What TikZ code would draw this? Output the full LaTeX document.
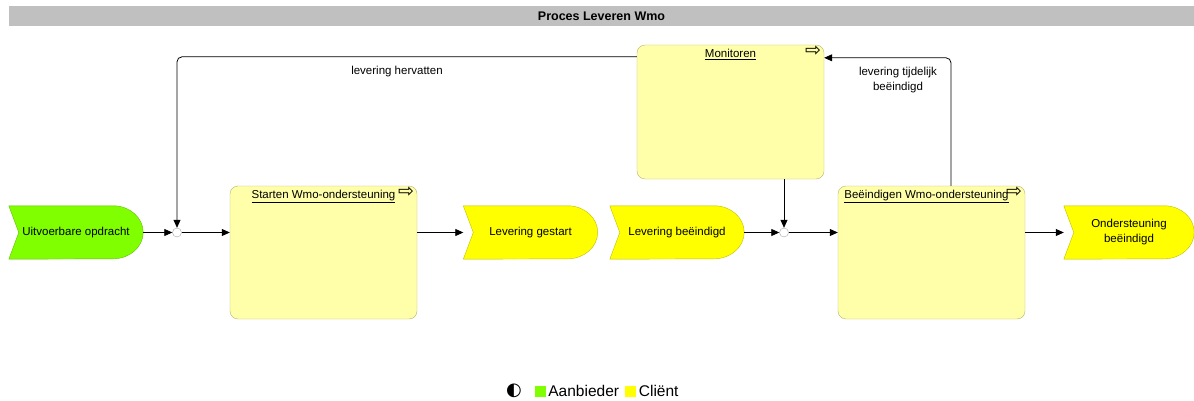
\documentclass[tikz,border=0pt]{standalone}
\usepackage{fontspec}
\setmainfont{Liberation Sans}
\newfontfamily\symfont{DejaVu Sans}
\usetikzlibrary{positioning,arrows.meta,backgrounds}
\definecolor{aanbieder}{RGB}{128,255,0}
\definecolor{client}{RGB}{255,255,0}
\definecolor{procesvlak}{RGB}{255,255,170}
\definecolor{procesrand}{RGB}{180,180,110}
\definecolor{balk}{RGB}{192,192,192}
\tikzset{
  gebeurtenis/.style={minimum width=134pt, minimum height=53pt, inner sep=0pt, align=center,
    font=\fontsize{11.5}{15}\selectfont},
  proces/.style={draw=procesrand, fill=procesvlak, rounded corners=8pt, minimum width=187pt,
    minimum height=133pt, inner sep=0pt},
  procestitel/.style={font=\fontsize{11.5}{14}\selectfont, inner sep=0pt},
  icoon/.style={font=\symfont\fontsize{19}{19}\selectfont, inner sep=0pt, anchor=east},
  knoop/.style={circle, draw=black!35, fill=white, minimum size=9pt, inner sep=0pt},
  kantlabel/.style={font=\fontsize{11.5}{15}\selectfont, inner sep=0pt, align=center},
  legvak/.style={minimum size=11pt, inner sep=0pt},
  legtekst/.style={font=\fontsize{15.5}{18}\selectfont, inner sep=0pt}
}
\begin{document}
\begin{tikzpicture}[x=1pt, y=1pt]
  \useasboundingbox (0,0) rectangle (1194,-401);
  \node[fill=balk, minimum width=1185pt, minimum height=20pt, inner sep=0pt,
    font=\bfseries\fontsize{12.5}{14}\selectfont] (titel) at (601.5,-16) {Proces Leveren Wmo};

  \node[gebeurtenis] (uitv) at (76,-232.5) {Uitvoerbare opdracht};
  \node[gebeurtenis] (lgest) at (530.5,-232.5) {Levering gestart};
  \node[gebeurtenis] (lbeeind) at (677,-232.5) {Levering beëindigd};
  \node[gebeurtenis, minimum width=130pt] (obeeind) at (1129,-232.5) {Ondersteuning\\beëindigd};
  \begin{scope}[on background layer]
    \foreach \ev/\kl in {uitv/aanbieder, lgest/client, lbeeind/client, obeeind/client}
      \filldraw[fill=\kl, draw=\kl!75!black] (\ev.north west) -- ([xshift=-30pt]\ev.north east)
        arc[start angle=90, end angle=-90, x radius=30pt, y radius=26.5pt]
        -- (\ev.south west) -- ([xshift=10pt]\ev.west) -- cycle;
  \end{scope}

  \node[knoop] (j1) at (177,-232.5) {};
  \node[knoop] (j2) at (784,-232.5) {};

  \node[proces] (starten) at (323.5,-252.5) {};
  \node[proces, minimum height=134pt] (moni) at (730.5,-112) {};
  \node[proces] (beeind) at (931.5,-252.5) {};
  \node[procestitel, below=4pt of starten.north] (startenT) {\underline{Starten Wmo-ondersteuning}};
  \node[procestitel, below=4pt of moni.north] (moniT) {\underline{Monitoren}};
  \node[procestitel, below=4pt of beeind.north, xshift=-5pt] (beeindT) {\underline{Beëindigen Wmo-ondersteuning}};
  \node[icoon] (startenI) at ([shift={(-3pt,-6pt)}]starten.north east) {⇨};
  \node[icoon] (moniI) at ([shift={(-3pt,-6pt)}]moni.north east) {⇨};
  \node[icoon] (beeindI) at ([shift={(-3pt,-6pt)}]beeind.north east) {⇨};

  \node[kantlabel] (lblhervat) at (397,-72) {levering hervatten};
  \node[kantlabel] (lbltijd) at (898,-80) {levering tijdelijk\\beëindigd};

  \begin{scope}[-{Triangle[length=8pt,width=7pt]}, line width=0.8pt]
    \draw (uitv) -- (j1);
    \draw (j1) -- (j1 -| starten.west);
    \draw (starten.east |- lgest) -- (lgest);
    \draw (lbeeind) -- (j2);
    \draw (j2) -- (j2 -| beeind.west);
    \draw (moni.south -| j2) -- (j2);
    \draw (beeind.east |- obeeind) -- (obeeind);
    \draw[rounded corners=5pt] ([yshift=-12pt]moni.north west) -| (j1);
    \draw[rounded corners=5pt] ([xshift=19.5pt]beeind.north) |- ([yshift=-13pt]moni.north east);
  \end{scope}

  \node[legtekst, font=\symfont\fontsize{18}{18}\selectfont] (legicoon) at (514,-391) {◐};
  \node[legvak, fill=aanbieder] (legA) at (540.5,-391) {};
  \node[legtekst, right=2pt of legA] (legAt) {Aanbieder};
  \node[legvak, fill=client, right=6pt of legAt] (legC) {};
  \node[legtekst, right=2pt of legC] (legCt) {Cliënt};
\end{tikzpicture}
\end{document}
